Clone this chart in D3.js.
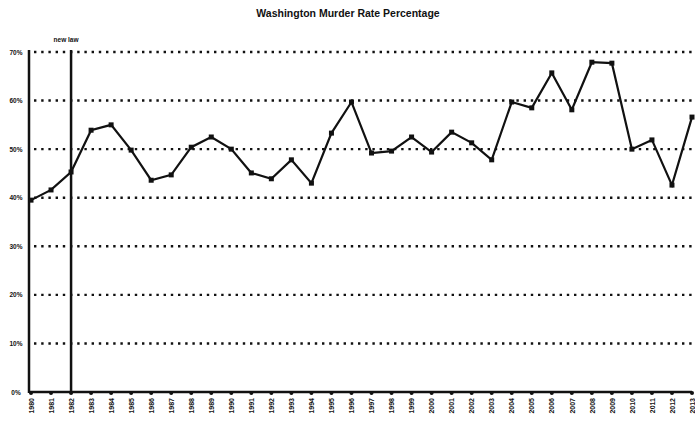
<!DOCTYPE html>
<html><head><meta charset="utf-8">
<script src="https://cdn.jsdelivr.net/npm/d3@7"></script>
<style>body{margin:0;background:#fff}svg{display:block}text{font-family:"Liberation Sans",Arial,sans-serif;font-weight:bold;fill:#111}</style>
</head><body>
<script>
const years = d3.range(1980, 2014).map(String);
const rates = [39.5,41.6,45.3,53.9,55.0,49.8,43.6,44.7,50.4,52.5,50.0,45.1,43.9,47.8,43.0,53.3,59.7,49.2,49.6,52.5,49.4,53.5,51.3,47.8,59.7,58.5,65.7,58.1,67.9,67.7,50.0,51.9,42.6,56.6];
const yTicks = [0,10,20,30,40,50,60,70];
const tickLabels = ["0%","10%","20%","30%","40%","50%","60%","70%"];
const markerYear = "1982";
const markerLabel = "new law";
const title = "Washington Murder Rate Percentage";

const W=695,H=427;
const svg=d3.select("body").append("svg").attr("width",W).attr("height",H);
const x=d3.scalePoint().domain(years).range([31,692]);
const y=d3.scaleLinear().domain([0,70]).range([392,52]);

svg.append("text").attr("x",348).attr("y",17).attr("text-anchor","middle").attr("font-size",10.5).text(title);

// gridlines
svg.append("g").selectAll("line").data(yTicks.filter(d=>d>0)).join("line")
  .attr("x1",34).attr("x2",692).attr("y1",d=>y(d)).attr("y2",d=>y(d))
  .attr("stroke","#111").attr("stroke-width",2.4).attr("stroke-dasharray","2.4,4.8");

// y labels
svg.append("g").selectAll("text").data(yTicks).join("text")
  .attr("x",16).attr("y",d=>y(d)+2.5).attr("text-anchor","middle").attr("font-size",6.5)
  .text((d,i)=>tickLabels[i]);

// x axis baseline
svg.append("line").attr("x1",29).attr("x2",692).attr("y1",392).attr("y2",392).attr("stroke","#111").attr("stroke-width",2.5);
svg.append("g").selectAll("circle").data(years).join("circle")
  .attr("cx",d=>x(d)).attr("cy",393).attr("r",2).attr("fill","#111");
// y axis
svg.append("line").attr("x1",29).attr("x2",29).attr("y1",50).attr("y2",393).attr("stroke","#111").attr("stroke-width",2.5);
// marker line
svg.append("line").attr("x1",x(markerYear)).attr("x2",x(markerYear)).attr("y1",50).attr("y2",393).attr("stroke","#111").attr("stroke-width",2.5);
svg.append("text").attr("x",x(markerYear)-5).attr("y",42).attr("text-anchor","middle").attr("font-size",6.5).text(markerLabel);

// x labels
svg.append("g").selectAll("text").data(years).join("text")
  .attr("transform",d=>`translate(${x(d)+2.7},398) rotate(-90)`).attr("text-anchor","end")
  .attr("font-size",7).text(d=>d);

// line
const data=years.map((d,i)=>({k:d,v:rates[i]}));
svg.append("path").datum(data).attr("fill","none").attr("stroke","#111").attr("stroke-width",2.2)
  .attr("d",d3.line().x(d=>x(d.k)).y(d=>y(d.v)));
svg.append("g").selectAll("rect").data(data).join("rect")
  .attr("x",d=>x(d.k)-2.5).attr("y",d=>y(d.v)-2.5).attr("width",5).attr("height",5).attr("fill","#111");
</script>
</body></html>
